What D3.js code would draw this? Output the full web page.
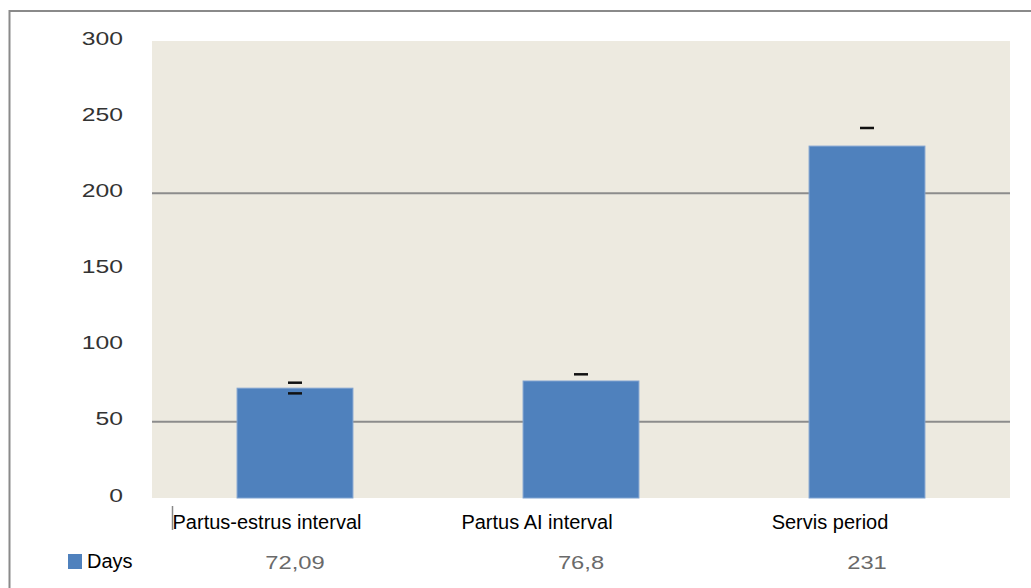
<!DOCTYPE html>
<html>
<head>
<meta charset="utf-8">
<script src="https://cdn.jsdelivr.net/npm/d3@7"></script>
<style>
  body { margin: 0; background: #fff; }
  svg { display: block; }
</style>
</head>
<body>
<script>
'use strict';

// values
const categories = ['Partus-estrus interval', 'Partus AI interval', 'Servis period'];
const days = [72.09, 76.8, 231];
const dayLabels = ['72,09', '76,8', '231'];
const errUp = [3.6, 4.4, 11.9];
const errDown = [3.4, null, null];   // only the first lower cap shows
const yTicks = [0, 50, 100, 150, 200, 250, 300];
const gridValues = [50, 200];
const seriesName = 'Days';

const W = 1031, H = 588;
const plot = { left: 152, right: 1010, top: 41, bottom: 498 };
// category labels sit a bit left of their bars in the original
const labelShift = [-28, -44, -37];

const svg = d3.select('body').append('svg')
  .attr('width', W)
  .attr('height', H);

// outer frame, runs off the right and bottom edges
svg.append('rect')
  .attr('x', 9.5).attr('y', 11)
  .attr('width', W + 20).attr('height', H + 20)
  .attr('fill', 'none')
  .attr('stroke', '#8a8a8a')
  .attr('stroke-width', 2);

const x = d3.scaleBand()
  .domain(categories)
  .range([plot.left, plot.right])
  .paddingInner(0.595)
  .paddingOuter(0.2975);

const y = d3.scaleLinear()
  .domain([0, 300])
  .range([plot.bottom, plot.top]);

const mid = c => x(c) + x.bandwidth() / 2;

svg.append('rect')
  .attr('x', plot.left).attr('y', plot.top)
  .attr('width', plot.right - plot.left)
  .attr('height', plot.bottom - plot.top)
  .attr('fill', '#edeae0');

svg.append('g')
  .selectAll('line')
  .data(gridValues)
  .join('line')
  .attr('x1', plot.left).attr('x2', plot.right)
  .attr('y1', d => y(d)).attr('y2', d => y(d))
  .attr('stroke', '#8c8c8c')
  .attr('stroke-width', 2);

// y tick labels, drawn wide like the original
svg.append('g')
  .selectAll('text')
  .data(yTicks)
  .join('text')
  .attr('transform', d => `translate(123,${y(d) - 1.5}) scale(1.3,1)`)
  .attr('text-anchor', 'end')
  .attr('dominant-baseline', 'middle')
  .style('font-family', '"Liberation Sans", Arial, sans-serif')
  .style('font-size', '19px')
  .style('fill', '#333')
  .text(d => d);

svg.append('g')
  .selectAll('rect')
  .data(days)
  .join('rect')
  .attr('x', (d, i) => x(categories[i]))
  .attr('y', d => y(d))
  .attr('width', x.bandwidth())
  .attr('height', d => y(0) - y(d))
  .attr('fill', '#4f81bd')
  .attr('stroke', '#7fa2d0')
  .attr('stroke-width', 1);

// error caps
const capW = 14;
const caps = [];
days.forEach((d, i) => {
  caps.push({ i, v: d + errUp[i] });
  if (errDown[i] != null) caps.push({ i, v: d - errDown[i] });
});

svg.append('g')
  .selectAll('line')
  .data(caps)
  .join('line')
  .attr('x1', d => mid(categories[d.i]) - capW / 2)
  .attr('x2', d => mid(categories[d.i]) + capW / 2)
  .attr('y1', d => y(d.v)).attr('y2', d => y(d.v))
  .attr('stroke', '#111')
  .attr('stroke-width', 2.5);

// category labels
svg.append('g')
  .selectAll('text')
  .data(categories)
  .join('text')
  .attr('x', (d, i) => mid(d) + labelShift[i])
  .attr('y', 529)
  .attr('text-anchor', 'middle')
  .style('font-family', '"Liberation Sans", Arial, sans-serif')
  .style('font-size', '20px')
  .style('fill', '#000')
  .text(d => d);

// little table border left of first label
svg.append('line')
  .attr('x1', 172.5).attr('x2', 172.5)
  .attr('y1', 506).attr('y2', 530)
  .attr('stroke', '#888')
  .attr('stroke-width', 1.5);

// data table row
svg.append('rect')
  .attr('x', 68).attr('y', 554)
  .attr('width', 14).attr('height', 15)
  .attr('fill', '#4f81bd');

svg.append('text')
  .attr('x', 87).attr('y', 568)
  .style('font-family', '"Liberation Sans", Arial, sans-serif')
  .style('font-size', '20px')
  .style('fill', '#000')
  .text(seriesName);

svg.append('g')
  .selectAll('text')
  .data(dayLabels)
  .join('text')
  .attr('transform', (d, i) => `translate(${mid(categories[i])},569) scale(1.25,1)`)
  .attr('text-anchor', 'middle')
  .style('font-family', '"Liberation Sans", Arial, sans-serif')
  .style('font-size', '19px')
  .style('fill', '#6a6a6a')
  .text(d => d);
</script>
</body>
</html>
